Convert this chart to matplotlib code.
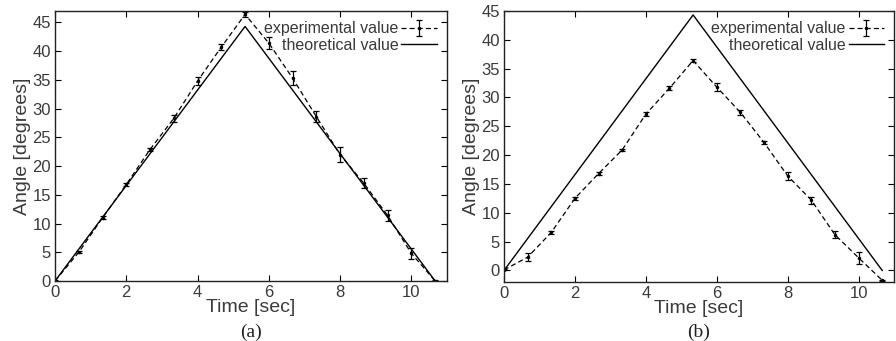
import matplotlib.pyplot as plt
import numpy as np

# sample times (sec)
t = np.array([0, 0.667, 1.333, 2.0, 2.667, 3.333, 4.0, 4.667, 5.333,
              6.0, 6.667, 7.333, 8.0, 8.667, 9.333, 10.0, 10.667])

# theoretical triangle profile
t_theory = [0, 5.333, 10.667]
ang_theory = [0, 44.3, 0]

# (a) experimental
exp_a = [0, 5.0, 11.0, 16.8, 22.9, 28.3, 34.8, 40.7, 46.4,
         41.4, 35.3, 28.6, 22.0, 17.0, 11.4, 4.8, 0]
err_a = [0.1, 0.2, 0.3, 0.3, 0.2, 0.6, 0.7, 0.5, 0.4,
         1.0, 1.2, 1.0, 1.3, 0.9, 1.0, 1.0, 0.1]

# (b) experimental
exp_b = [0.1, 2.3, 6.6, 12.5, 16.8, 20.9, 27.1, 31.6, 36.4,
         31.8, 27.4, 22.2, 16.4, 12.2, 6.2, 2.2, -1.7]
err_b = [0.1, 0.7, 0.2, 0.3, 0.2, 0.2, 0.4, 0.3, 0.2,
         0.7, 0.5, 0.3, 0.7, 0.6, 0.6, 1.0, 0.1]

plt.rcParams['font.family'] = ['Liberation Sans', 'DejaVu Sans']
txt = '#3a3a3a'

fig = plt.figure(figsize=(8.96, 3.41), dpi=100)
ax1 = fig.add_axes([0.0614, 0.176, 0.4375, 0.792])
ax2 = fig.add_axes([0.5625, 0.173, 0.4353, 0.795])

panels = [(ax1, exp_a, err_a, (0, 47), '(a)'),
          (ax2, exp_b, err_b, (-2, 45), '(b)')]

for ax, exp, err, ylim, cap in panels:
    h1 = ax.errorbar(t, exp, yerr=err, fmt='k--', marker='.', markersize=3,
                     linewidth=0.9, elinewidth=0.9, capsize=2, capthick=0.9,
                     dashes=(4, 2.5), label='experimental value')
    h2, = ax.plot(t_theory, ang_theory, 'k-', linewidth=1.0, label='theoretical value')
    ax.set_xlim(0, 11)
    ax.set_ylim(*ylim)
    ax.set_xticks([0, 2, 4, 6, 8, 10])
    ax.set_yticks(np.arange(0, 46, 5))
    ax.tick_params(direction='in', top=True, right=True, length=4,
                   labelsize=12, labelcolor=txt, pad=3)
    for s in ax.spines.values():
        s.set_linewidth(1.0)
        s.set_color('#222222')
    ax.set_xlabel('Time [sec]', fontsize=14, color=txt, labelpad=-1)
    ax.set_ylabel('Angle [degrees]', fontsize=14, color=txt, labelpad=1)
    leg = ax.legend([h1, h2], ['experimental value', 'theoretical value'],
                    loc='upper right', frameon=False, markerfirst=False,
                    fontsize=11.5, handlelength=2.2, handletextpad=0.2,
                    labelspacing=0.1, borderaxespad=0.25)
    for tx in leg.get_texts():
        tx.set_color(txt)
    pos = ax.get_position()
    fig.text((pos.x0 + pos.x1) / 2, 1 - 332 / 341, cap, ha='center', va='center',
             fontsize=14, family='Liberation Serif', color='#222222')

fig.savefig('out.png', dpi=100)
